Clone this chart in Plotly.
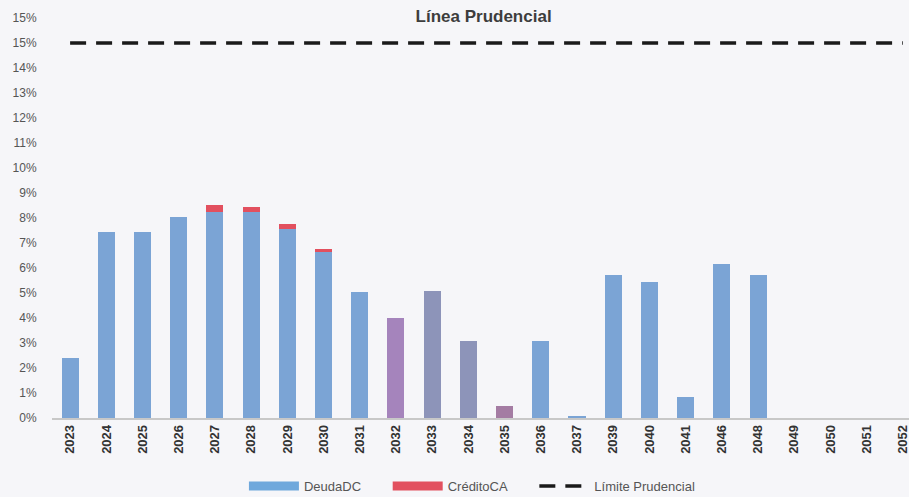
import plotly.graph_objects as go

# Years shown on the category axis
years = ["2023", "2024", "2025", "2026", "2027", "2028", "2029", "2030", "2031",
         "2032", "2033", "2034", "2035", "2036", "2037", "2039", "2040", "2041",
         "2046", "2048", "2049", "2050", "2051", "2052"]

# Share of each year (%)
deuda_dc = [2.4, 7.45, 7.45, 8.05, 8.25, 8.25, 7.58, 6.63, 5.05,
            4.0, 5.1, 3.09, 0.5, 3.09, 0.05, 5.73, 5.45, 0.86,
            6.17, 5.73, 0.0, 0.0, 0.0, 0.0]
credito_ca = [0.0, 0.0, 0.0, 0.0, 0.26, 0.2, 0.2, 0.14, 0.0,
              0.0, 0.0, 0.0, 0.0, 0.0, 0.0, 0.0, 0.0, 0.0,
              0.0, 0.0, 0.0, 0.0, 0.0, 0.0]
limite = 15.0

# Bar fill per year
blue = "#7BA4D5"
red = "#E2505F"
deuda_colors = [blue] * 9 + ["#A584BC", "#8D94B9", "#8D94B9", "#A47CA3"] + [blue] * 11

y_ticks = list(range(0, 17))
y_labels = [f"{v}%" for v in range(0, 16)] + ["15%"]

pad = "\u00a0" * 6  # extra room between legend entries

fig = go.Figure()
fig.add_trace(go.Bar(x=years, y=deuda_dc, name="DeudaDC", showlegend=False,
                     marker=dict(color=deuda_colors, line=dict(width=0))))
fig.add_trace(go.Bar(x=years, y=credito_ca, name="CréditoCA", showlegend=False,
                     marker=dict(color=red, line=dict(width=0))))

# Legend entries drawn as wide flat swatches
fig.add_trace(go.Scatter(x=[None], y=[None], mode="lines", name="DeudaDC" + pad,
                         line=dict(color="#6FA8DC", width=9)))
fig.add_trace(go.Scatter(x=[None], y=[None], mode="lines", name="CréditoCA" + pad,
                         line=dict(color=red, width=9)))
fig.add_trace(go.Scatter(x=years, y=[limite] * len(years), mode="lines",
                         name="Límite Prudencial",
                         line=dict(color="#1a1a1a", width=3.5, dash="16px,10px")))

fig.update_layout(
    width=909, height=497,
    barmode="stack", bargap=0.53,
    paper_bgcolor="#F6F6F9", plot_bgcolor="#F6F6F9",
    margin=dict(l=52, r=0, t=18, b=79),
    font=dict(family="Liberation Sans, Arial, sans-serif", color="#444444"),
    title=dict(text="<b>Línea Prudencial</b>", x=0.532, xanchor="center",
               y=0.968, yanchor="middle",
               font=dict(size=17, color="#3d3d3d")),
    showlegend=True,
    legend=dict(orientation="h", traceorder="normal",
                x=0.49, xanchor="center", yref="container", y=0.022, yanchor="middle",
                font=dict(size=13, color="#555555"), itemwidth=50,
                bgcolor="rgba(0,0,0,0)"),
    xaxis=dict(type="category", range=[-0.5, 23.17], showgrid=False,
               showline=True, linecolor="#C8C8C8", linewidth=1.5,
               tickangle=-90, ticks="", tickfont=dict(size=13, color="#333333", weight="bold"),
               fixedrange=True),
    yaxis=dict(range=[0, 16], tickvals=y_ticks, ticktext=y_labels,
               showgrid=False, zeroline=False, showline=False,
               ticks="outside", ticklen=12, tickcolor="rgba(0,0,0,0)",
               tickfont=dict(size=12, color="#555555")),
)

fig.write_html("out.html")
